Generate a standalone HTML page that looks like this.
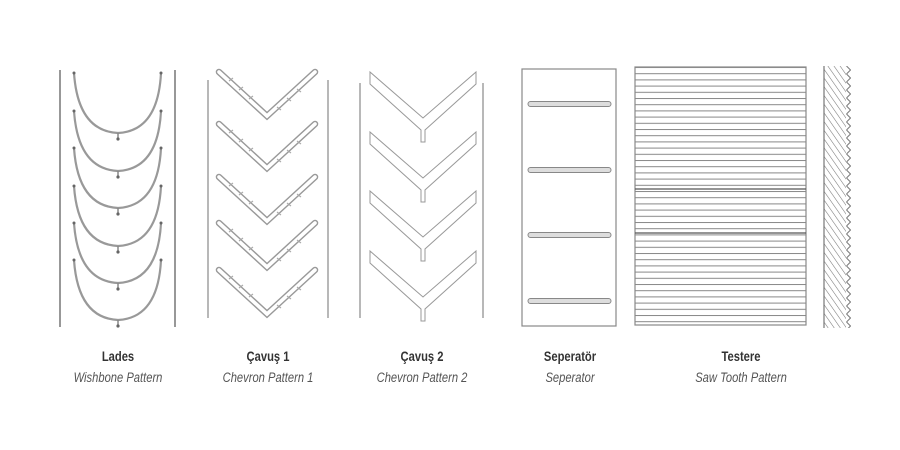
<!DOCTYPE html>
<html><head><meta charset="utf-8"><style>
html,body{margin:0;padding:0;background:#fff;width:900px;height:450px;overflow:hidden}
svg{position:absolute;left:0;top:0}
.t{font-family:"Liberation Sans",sans-serif;font-size:14px;fill:#333;font-weight:bold}
.s{font-family:"Liberation Sans",sans-serif;font-size:14px;fill:#555;font-style:italic}
</style></head><body>
<svg width="900" height="450" viewBox="0 0 900 450">
<defs>
<g id="wb">
<path d="M74,0 Q78,58 118,60 Q158,58 161,0" fill="none" stroke="#999" stroke-width="2.2"/>
<path d="M118,60 L118,66" stroke="#888" stroke-width="1.5"/>
<circle cx="74" cy="0" r="1.5" fill="#666"/><circle cx="161" cy="0" r="1.5" fill="#666"/><circle cx="118" cy="66" r="1.6" fill="#666"/>
</g>
<g id="ch1" fill="none" stroke="#999" stroke-width="1.2">
<path d="M219,0 L267,44 L315,0" stroke-width="6.5" stroke-linecap="round"/>
<path d="M219,0 L267,44 L315,0" stroke="#fff" stroke-width="3.6" stroke-linecap="round"/>
<path d="M229,9 l4,-3 M239,18 l4,-3 M249,27 l4,-3 M277,35 l4,3 M287,26 l4,3 M297,17 l4,3" stroke="#aaa"/>
</g>
<g id="ch2" fill="#fff" stroke="#999" stroke-width="1">
<path d="M370,0 L370,12 L421,58 L421,70 L425,70 L425,58 L476,12 L476,0 L423,46 Z"/>
</g>
<g id="sb"><rect x="528" y="-2.5" width="83" height="5" rx="2.5" fill="#ddd" stroke="#888" stroke-width="1"/></g>
<pattern id="hl" x="0" y="67" width="10" height="6.2" patternUnits="userSpaceOnUse"><line x1="0" y1="0.5" x2="10" y2="0.5" stroke="#888" stroke-width="1"/></pattern>
<pattern id="dl" x="0" y="0" width="5" height="5" patternUnits="userSpaceOnUse" patternTransform="rotate(-35)"><line x1="0" y1="0" x2="0" y2="5" stroke="#777" stroke-width="1.1"/></pattern>
<pattern id="zz" x="846" y="66" width="10" height="8" patternUnits="userSpaceOnUse"><path d="M0.5,0 L4.5,4 L0.5,8" fill="none" stroke="#777" stroke-width="1"/></pattern>
</defs>
<!-- Lades -->
<line x1="60" y1="70" x2="60" y2="327" stroke="#777" stroke-width="1.5"/>
<line x1="175" y1="70" x2="175" y2="327" stroke="#777" stroke-width="1.5"/>
<use href="#wb" y="73"/><use href="#wb" y="111"/><use href="#wb" y="148"/><use href="#wb" y="186"/><use href="#wb" y="223"/><use href="#wb" y="260"/>
<!-- Chevron 1 -->
<line x1="208" y1="80" x2="208" y2="318" stroke="#888" stroke-width="1.2"/>
<line x1="328" y1="80" x2="328" y2="318" stroke="#888" stroke-width="1.2"/>
<use href="#ch1" y="72"/><use href="#ch1" y="124"/><use href="#ch1" y="177"/><use href="#ch1" y="223"/><use href="#ch1" y="270"/>
<!-- Chevron 2 -->
<line x1="360" y1="83" x2="360" y2="318" stroke="#888" stroke-width="1.2"/>
<line x1="483" y1="83" x2="483" y2="318" stroke="#888" stroke-width="1.2"/>
<use href="#ch2" y="72"/><use href="#ch2" y="132"/><use href="#ch2" y="191"/><use href="#ch2" y="251"/>
<!-- Separator -->
<rect x="522" y="69" width="94" height="257" fill="#fff" stroke="#888" stroke-width="1.2"/>
<use href="#sb" y="104"/><use href="#sb" y="170"/><use href="#sb" y="235"/><use href="#sb" y="301"/>
<!-- Testere -->
<rect x="635" y="67" width="171" height="258" fill="url(#hl)" stroke="#888" stroke-width="1.2"/>
<line x1="635" y1="189" x2="806" y2="189" stroke="#555" stroke-width="1.2"/>
<line x1="635" y1="233" x2="806" y2="233" stroke="#555" stroke-width="1.2"/>
<!-- Saw -->
<rect x="824" y="66" width="22" height="262" fill="url(#dl)"/>
<line x1="824" y1="66" x2="824" y2="328" stroke="#777" stroke-width="1.2"/>
<rect x="846" y="66" width="5" height="262" fill="url(#zz)"/>
<!-- Labels -->
<g text-anchor="middle">
<text class="t" transform="translate(118,361) scale(0.8,1)">Lades</text>
<text class="s" transform="translate(118,382) scale(0.8,1)">Wishbone Pattern</text>
<text class="t" transform="translate(268,361) scale(0.8,1)">Çavuş 1</text>
<text class="s" transform="translate(268,382) scale(0.8,1)">Chevron Pattern 1</text>
<text class="t" transform="translate(422,361) scale(0.8,1)">Çavuş 2</text>
<text class="s" transform="translate(422,382) scale(0.8,1)">Chevron Pattern 2</text>
<text class="t" transform="translate(570,361) scale(0.8,1)">Seperatör</text>
<text class="s" transform="translate(570,382) scale(0.8,1)">Seperator</text>
<text class="t" transform="translate(741,361) scale(0.8,1)">Testere</text>
<text class="s" transform="translate(741,382) scale(0.8,1)">Saw Tooth Pattern</text>
</g>
</svg>
</body></html>
